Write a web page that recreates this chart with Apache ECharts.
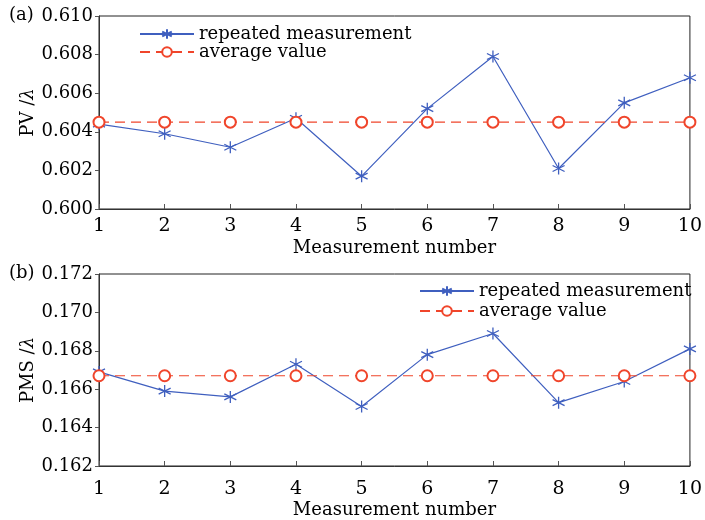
<!DOCTYPE html>
<html lang="en">
<head>
    <meta charset="UTF-8">
    <title>PV / PMS repeated measurement</title>
    <script src="https://cdn.jsdelivr.net/npm/echarts@6/dist/echarts.min.js"></script>
    <style>
        html, body { margin: 0; padding: 0; background: #fff; }
        #main { width: 705px; height: 520px; }
    </style>
</head>
<body>
<div id="main"></div>
<script>
    // measurement index 1..10
    var measureNo = [1, 2, 3, 4, 5, 6, 7, 8, 9, 10];
    // (a) PV / lambda
    var pvValues = [0.6044, 0.6039, 0.6032, 0.6047, 0.6017, 0.6052, 0.6079, 0.6021, 0.6055, 0.6068];
    var pvAverage = 0.6045;
    // (b) PMS / lambda
    var pmsValues = [0.1669, 0.1659, 0.1656, 0.1673, 0.1651, 0.1678, 0.1689, 0.1653, 0.1664, 0.1681];
    var pmsAverage = 0.1667;

    var pvTicks = [0.600, 0.610, 0.002];
    var pmsTicks = [0.162, 0.172, 0.002];

    var FONT = 'DejaVu Serif';
    var blue = '#3f5fbf';
    var red = '#f0452b';
    // asterisk marker
    var star = 'path://M0,-6L0,6M-5.2,-3L5.2,3M-5.2,3L5.2,-3';

    function pairs(vals) {
        return measureNo.map(function (n, i) { return [n, vals[i]]; });
    }
    function flat(v) {
        return measureNo.map(function (n) { return [n, v]; });
    }

    function xAxis(idx, labelMargin, nameGap) {
        return {
            type: 'value', gridIndex: idx, min: 1, max: 10, interval: 1,
            name: 'Measurement number', nameLocation: 'middle', nameGap: nameGap,
            nameTextStyle: {fontFamily: FONT, fontSize: 18, color: '#000'},
            axisLine: {lineStyle: {color: '#333', width: 1}},
            axisTick: {inside: true, length: 5, lineStyle: {color: '#555'}},
            axisLabel: {fontFamily: FONT, fontSize: 19, color: '#000', margin: labelMargin},
            splitLine: {show: false}
        };
    }
    function yAxis(idx, ticks, label) {
        return {
            type: 'value', gridIndex: idx, min: ticks[0], max: ticks[1], interval: ticks[2],
            name: label + ' /{i|λ}', nameLocation: 'middle', nameGap: 62, nameRotate: 90,
            nameMoveOverlap: false,
            nameTextStyle: {fontFamily: FONT, fontSize: 18, color: '#000',
                rich: {i: {fontFamily: FONT, fontSize: 18, fontStyle: 'italic', color: '#000'}}},
            axisLine: {show: true, lineStyle: {color: '#333', width: 1}},
            axisTick: {show: true, length: 4, lineStyle: {color: '#555'}},
            axisLabel: {fontFamily: FONT, fontSize: 18, color: '#000', margin: 6,
                formatter: function (v) { return v.toFixed(3); }},
            splitLine: {show: false}
        };
    }
    function series(idx, data, avg) {
        return [{
            name: 'repeated measurement', type: 'line', xAxisIndex: idx, yAxisIndex: idx,
            data: pairs(data), symbol: star, symbolSize: 12,
            lineStyle: {color: blue, width: 1.2},
            itemStyle: {color: 'none', borderColor: blue, borderWidth: 1.3},
            z: 2
        }, {
            name: 'average value', type: 'line', xAxisIndex: idx, yAxisIndex: idx,
            data: flat(avg), symbol: 'emptyCircle', symbolSize: 11,
            lineStyle: {color: red, width: 1.2, type: [10, 6]},
            itemStyle: {color: red, borderColor: red, borderWidth: 1.2},
            z: 3
        }];
    }

    var legendBase = {
        orient: 'vertical', itemWidth: 54, itemHeight: 12, itemGap: 2,
        textStyle: {fontFamily: FONT, fontSize: 18, color: '#000'},
        data: ['repeated measurement', 'average value'],
        selectedMode: false
    };

    var myChart = echarts.init(document.getElementById('main'));
    var option = {
        backgroundColor: '#fff',
        animation: false,
        grid: [
            {left: 99, right: 11, top: 16, height: 193, show: true, borderColor: '#222', borderWidth: 1},
            {left: 99, right: 11, top: 274, height: 193, show: true, borderColor: '#222', borderWidth: 1}
        ],
        legend: [
            Object.assign({}, legendBase, {left: 134, top: 20, itemGap: 0}),
            Object.assign({}, legendBase, {left: 414, top: 277})
        ],
        xAxis: [xAxis(0, 8, 30), xAxis(1, 14, 35)],
        yAxis: [yAxis(0, pvTicks, 'PV'), yAxis(1, pmsTicks, 'PMS')],
        series: series(0, pvValues, pvAverage).concat(series(1, pmsValues, pmsAverage)),
        graphic: [
            {type: 'text', left: 9, top: 6, style: {text: '(a)', fontFamily: FONT, fontSize: 18, fill: '#000'}},
            {type: 'text', left: 9, top: 264, style: {text: '(b)', fontFamily: FONT, fontSize: 18, fill: '#000'}}
        ]
    };
    myChart.setOption(option);
</script>
</body>
</html>
